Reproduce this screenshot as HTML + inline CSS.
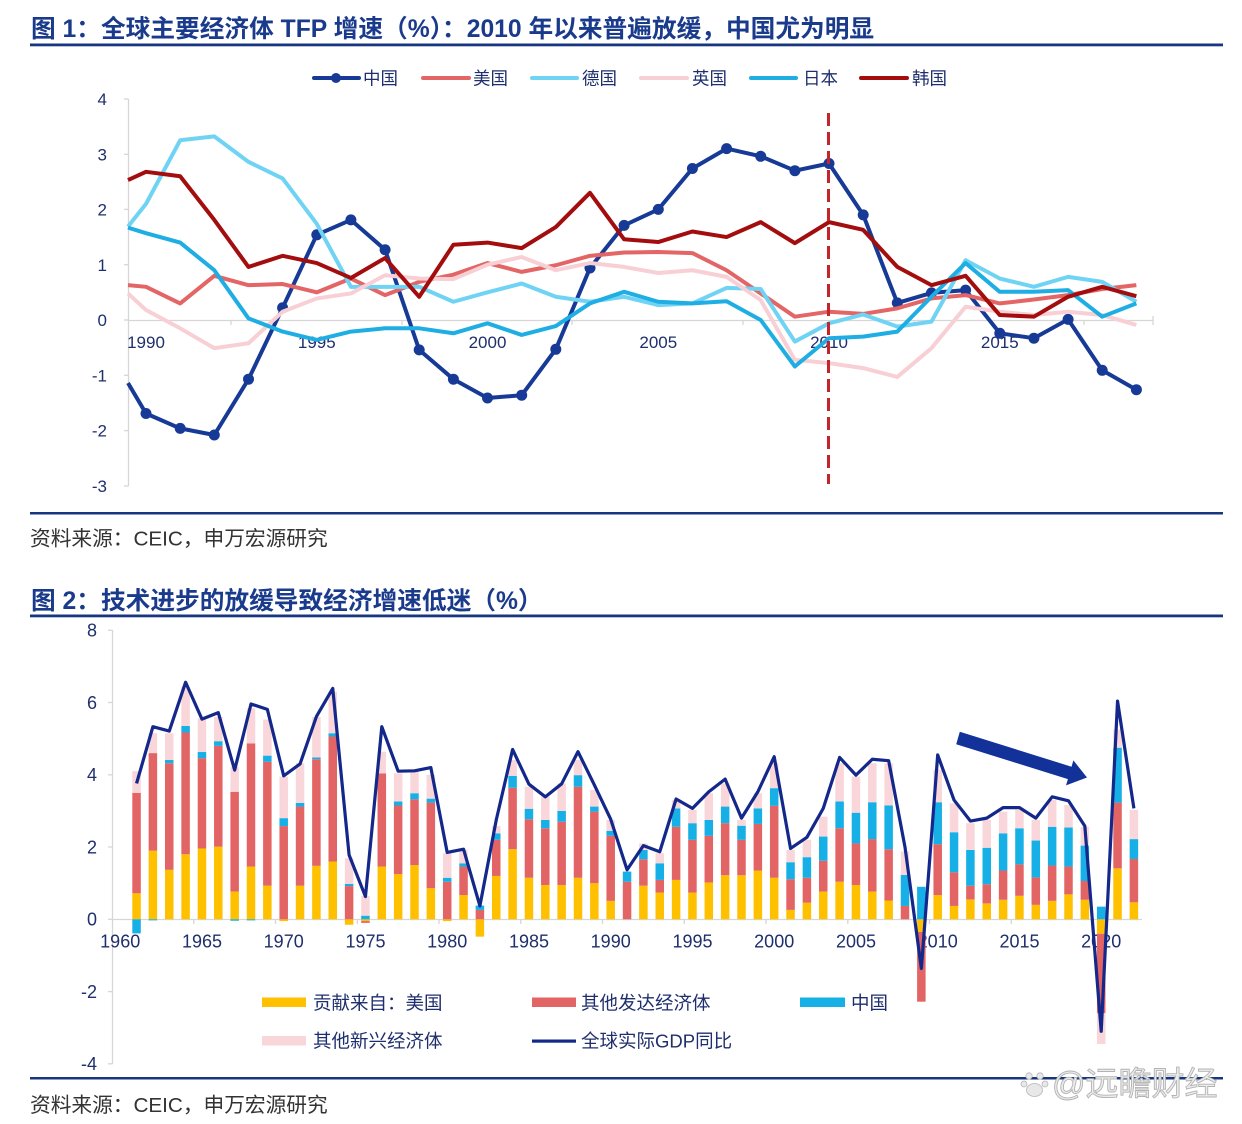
<!DOCTYPE html>
<html>
<head>
<meta charset="utf-8">
<style>
html,body{margin:0;padding:0;background:#fff;}
body{width:1242px;height:1124px;overflow:hidden;}
svg{display:block;}
text{font-family:"Liberation Sans","Noto Sans CJK SC",sans-serif;}
</style>
</head>
<body>
<svg width="1242" height="1124" viewBox="0 0 1242 1124" xmlns="http://www.w3.org/2000/svg">
<rect x="0" y="0" width="1242" height="1124" fill="#fff"/>

<!-- ===== Figure 1 ===== -->
<text x="31" y="37" font-size="24.7" font-weight="bold" fill="#1a3a8c">图 1：全球主要经济体 TFP 增速（%）：2010 年以来普遍放缓，中国尤为明显</text>
<rect x="30" y="43.5" width="1193" height="2.8" fill="#17367f"/>

<!-- legend 1 -->
<g stroke-width="4" stroke-linecap="round" fill="none">
  <line x1="314" y1="78" x2="359" y2="78" stroke="#173a96"/>
  <line x1="423" y1="78" x2="469" y2="78" stroke="#e36565"/>
  <line x1="532" y1="78" x2="577" y2="78" stroke="#6fd3f4"/>
  <line x1="641" y1="78" x2="687" y2="78" stroke="#f8cfd4"/>
  <line x1="751" y1="78" x2="796" y2="78" stroke="#1eaee3"/>
  <line x1="861" y1="78" x2="907" y2="78" stroke="#a30d0d"/>
</g>
<circle cx="336" cy="78" r="5" fill="#173a96"/>
<g font-size="17.5" fill="#1f2f6e">
  <text x="363" y="84.5">中国</text>
  <text x="473" y="84.5">美国</text>
  <text x="582" y="84.5">德国</text>
  <text x="692" y="84.5">英国</text>
  <text x="803" y="84.5">日本</text>
  <text x="912" y="84.5">韩国</text>
</g>

<!-- axes 1 -->
<g stroke="#d6d6d6" stroke-width="1.3">
  <line x1="128.5" y1="99" x2="128.5" y2="486"/>
  <line x1="124" y1="99" x2="128.5" y2="99"/>
  <line x1="124" y1="154.3" x2="128.5" y2="154.3"/>
  <line x1="124" y1="209.4" x2="128.5" y2="209.4"/>
  <line x1="124" y1="264.7" x2="128.5" y2="264.7"/>
  <line x1="124" y1="320" x2="128.5" y2="320"/>
  <line x1="124" y1="375.3" x2="128.5" y2="375.3"/>
  <line x1="124" y1="430.6" x2="128.5" y2="430.6"/>
  <line x1="124" y1="486" x2="128.5" y2="486"/>
  <line x1="128" y1="320.5" x2="1153" y2="320.5"/>
  <line x1="1153" y1="316" x2="1153" y2="325"/>
  <line x1="231" y1="320" x2="231" y2="325"/>
  <line x1="402" y1="320" x2="402" y2="325"/>
  <line x1="572" y1="320" x2="572" y2="325"/>
  <line x1="743" y1="320" x2="743" y2="325"/>
  <line x1="914" y1="320" x2="914" y2="325"/>
  <line x1="1084" y1="320" x2="1084" y2="325"/>
</g>
<g font-size="17" fill="#1f2f6e" text-anchor="end">
  <text x="107" y="105">4</text>
  <text x="107" y="160.3">3</text>
  <text x="107" y="215.5">2</text>
  <text x="107" y="270.8">1</text>
  <text x="107" y="326">0</text>
  <text x="107" y="381.3">-1</text>
  <text x="107" y="436.6">-2</text>
  <text x="107" y="492">-3</text>
</g>
<g font-size="17" fill="#1f2f6e" text-anchor="middle">
  <text x="146" y="348">1990</text>
  <text x="316.8" y="348">1995</text>
  <text x="487.5" y="348">2000</text>
  <text x="658.3" y="348">2005</text>
  <text x="829" y="348">2010</text>
  <text x="999.8" y="348">2015</text>
</g>

<!-- series 1 -->
<polyline fill="none" stroke="#173a96" stroke-width="4" stroke-linejoin="round" points="128,383 146,413.5 180.2,428.4 214.3,435 248.5,379.2 282.6,307.8 316.8,234.8 350.9,219.9 385.1,249.8 419.2,349.9 453.4,379.2 487.5,398 521.7,395.2 555.8,349.3 590,268 624.1,225.4 658.3,209.4 692.4,168.5 726.6,148.6 760.7,156.3 794.9,170.7 829,163.5 863.2,214.9 897.3,302.9 931.5,292.9 965.6,290.1 999.8,333.3 1033.9,338.2 1068.1,319.4 1102.2,370.3 1136.4,389.7"/>
<g fill="#173a96">
  <circle cx="146" cy="413.5" r="5.5"/><circle cx="180.2" cy="428.4" r="5.5"/><circle cx="214.3" cy="435" r="5.5"/><circle cx="248.5" cy="379.2" r="5.5"/><circle cx="282.6" cy="307.8" r="5.5"/><circle cx="316.8" cy="234.8" r="5.5"/><circle cx="350.9" cy="219.9" r="5.5"/><circle cx="385.1" cy="249.8" r="5.5"/><circle cx="419.2" cy="349.9" r="5.5"/><circle cx="453.4" cy="379.2" r="5.5"/><circle cx="487.5" cy="398" r="5.5"/><circle cx="521.7" cy="395.2" r="5.5"/><circle cx="555.8" cy="349.3" r="5.5"/><circle cx="590" cy="268" r="5.5"/><circle cx="624.1" cy="225.4" r="5.5"/><circle cx="658.3" cy="209.4" r="5.5"/><circle cx="692.4" cy="168.5" r="5.5"/><circle cx="726.6" cy="148.6" r="5.5"/><circle cx="760.7" cy="156.3" r="5.5"/><circle cx="794.9" cy="170.7" r="5.5"/><circle cx="829" cy="163.5" r="5.5"/><circle cx="863.2" cy="214.9" r="5.5"/><circle cx="897.3" cy="302.9" r="5.5"/><circle cx="931.5" cy="292.9" r="5.5"/><circle cx="965.6" cy="290.1" r="5.5"/><circle cx="999.8" cy="333.3" r="5.5"/><circle cx="1033.9" cy="338.2" r="5.5"/><circle cx="1068.1" cy="319.4" r="5.5"/><circle cx="1102.2" cy="370.3" r="5.5"/><circle cx="1136.4" cy="389.7" r="5.5"/>
</g>
<g transform="translate(146,320) scale(34.15,-55.3)" fill="none" stroke-linejoin="round">
  <polyline vector-effect="non-scaling-stroke" stroke="#e36565" stroke-width="4" points="-0.527,0.63 0,0.6 1,0.3 2,0.8 3,0.63 4,0.65 5,0.5 6,0.75 7,0.45 8,0.69 9,0.82 10,1.03 11,0.87 12,0.99 13,1.16 14,1.22 15,1.23 16,1.21 17,0.9 18,0.48 19,0.06 20,0.15 21,0.11 22,0.21 23,0.39 24,0.45 25,0.3 26,0.37 27,0.45 28,0.56 29,0.63"/>
  <polyline vector-effect="non-scaling-stroke" stroke="#6fd3f4" stroke-width="4" points="-0.527,1.69 0,2.1 1,3.25 2,3.32 3,2.86 4,2.56 5,1.74 6,0.6 7,0.6 8,0.6 9,0.33 10,0.5 11,0.66 12,0.42 13,0.33 14,0.42 15,0.27 16,0.3 17,0.58 18,0.56 19,-0.39 20,-0.06 21,0.1 22,-0.12 23,-0.03 24,1.08 25,0.75 26,0.6 27,0.78 28,0.69 29,0.33"/>
  <polyline vector-effect="non-scaling-stroke" stroke="#f8cfd4" stroke-width="4" points="-0.527,0.48 0,0.18 1,-0.15 2,-0.51 3,-0.42 4,0.15 5,0.39 6,0.48 7,0.81 8,0.75 9,0.74 10,1.0 11,1.14 12,0.9 13,1.03 14,0.96 15,0.85 16,0.9 17,0.78 18,0.36 19,-0.72 20,-0.78 21,-0.87 22,-1.03 23,-0.51 24,0.24 25,0.15 26,0.09 27,0.15 28,0.09 29,-0.09"/>
  <polyline vector-effect="non-scaling-stroke" stroke="#1eaee3" stroke-width="4" points="-0.527,1.67 0,1.57 1,1.4 2,0.9 3,0.03 4,-0.21 5,-0.36 6,-0.21 7,-0.15 8,-0.15 9,-0.24 10,-0.06 11,-0.27 12,-0.11 13,0.3 14,0.51 15,0.33 16,0.3 17,0.34 18,0 19,-0.84 20,-0.33 21,-0.3 22,-0.21 23,0.42 24,1.03 25,0.51 26,0.51 27,0.54 28,0.06 29,0.3"/>
  <polyline vector-effect="non-scaling-stroke" stroke="#a30d0d" stroke-width="4" points="-0.527,2.53 0,2.68 1,2.6 2,1.81 3,0.96 4,1.16 5,1.03 6,0.76 7,1.12 8,0.42 9,1.36 10,1.4 11,1.3 12,1.68 13,2.3 14,1.46 15,1.41 16,1.6 17,1.5 18,1.77 19,1.39 20,1.77 21,1.63 22,0.96 23,0.63 24,0.8 25,0.09 26,0.06 27,0.42 28,0.6 29,0.43"/>
</g>
<line x1="828.5" y1="113" x2="828.5" y2="484" stroke="#c3252b" stroke-width="3" stroke-dasharray="13,6"/>

<!-- source 1 -->
<rect x="30" y="512" width="1193" height="2.5" fill="#17367f"/>
<text x="30" y="545.5" font-size="20.7" fill="#333">资料来源：CEIC，申万宏源研究</text>

<!-- ===== Figure 2 ===== -->
<text x="31" y="609" font-size="24.7" font-weight="bold" fill="#1a3a8c">图 2：技术进步的放缓导致经济增速低迷（%）</text>
<rect x="30" y="614.5" width="1193" height="2.8" fill="#17367f"/>

<!-- axes 2 -->
<g stroke="#d6d6d6" stroke-width="1.3">
  <line x1="112.5" y1="630" x2="112.5" y2="1064"/>
  <line x1="108" y1="630.3" x2="112.5" y2="630.3"/>
  <line x1="108" y1="702.5" x2="112.5" y2="702.5"/>
  <line x1="108" y1="774.8" x2="112.5" y2="774.8"/>
  <line x1="108" y1="847" x2="112.5" y2="847"/>
  <line x1="108" y1="919.3" x2="112.5" y2="919.3"/>
  <line x1="108" y1="991.6" x2="112.5" y2="991.6"/>
  <line x1="108" y1="1063.8" x2="112.5" y2="1063.8"/>
  <line x1="112" y1="919.5" x2="1142" y2="919.5"/>
  <line x1="193.8" y1="919" x2="193.8" y2="924"/>
  <line x1="275.5" y1="919" x2="275.5" y2="924"/>
  <line x1="357.3" y1="919" x2="357.3" y2="924"/>
  <line x1="439" y1="919" x2="439" y2="924"/>
  <line x1="520.8" y1="919" x2="520.8" y2="924"/>
  <line x1="602.5" y1="919" x2="602.5" y2="924"/>
  <line x1="684.3" y1="919" x2="684.3" y2="924"/>
  <line x1="766" y1="919" x2="766" y2="924"/>
  <line x1="847.8" y1="919" x2="847.8" y2="924"/>
  <line x1="929.5" y1="919" x2="929.5" y2="924"/>
  <line x1="1011.3" y1="919" x2="1011.3" y2="924"/>
  <line x1="1093" y1="919" x2="1093" y2="924"/>
</g>
<g font-size="18" fill="#1f2f6e" text-anchor="end">
  <text x="97" y="636.7">8</text>
  <text x="97" y="708.9">6</text>
  <text x="97" y="781.2">4</text>
  <text x="97" y="853.4">2</text>
  <text x="97" y="925.7">0</text>
  <text x="97" y="998">-2</text>
  <text x="97" y="1070.2">-4</text>
</g>
<g font-size="18" fill="#1f2f6e" text-anchor="middle">
  <text x="120.2" y="947.5">1960</text>
  <text x="202" y="947.5">1965</text>
  <text x="283.7" y="947.5">1970</text>
  <text x="365.5" y="947.5">1975</text>
  <text x="447.2" y="947.5">1980</text>
  <text x="529" y="947.5">1985</text>
  <text x="610.7" y="947.5">1990</text>
  <text x="692.5" y="947.5">1995</text>
  <text x="774.2" y="947.5">2000</text>
  <text x="856" y="947.5">2005</text>
  <text x="937.7" y="947.5">2010</text>
  <text x="1019.5" y="947.5">2015</text>
  <text x="1101.2" y="947.5">2020</text>
</g>

<!-- bars -->
<g transform="translate(120.2,919.3) scale(16.35,-36.13)">
 <g fill="#ffc000">
  <rect x="0.74" y="0" width="0.52" height="0.72"/><rect x="1.74" y="0" width="0.52" height="1.9"/><rect x="2.74" y="0" width="0.52" height="1.37"/><rect x="3.74" y="0" width="0.52" height="1.8"/><rect x="4.74" y="0" width="0.52" height="1.96"/><rect x="5.74" y="0" width="0.52" height="2.01"/><rect x="6.74" y="0" width="0.52" height="0.77"/><rect x="7.74" y="0" width="0.52" height="1.46"/><rect x="8.74" y="0" width="0.52" height="0.93"/><rect x="9.74" y="-0.05" width="0.52" height="0.05"/>
  <rect x="10.74" y="0" width="0.52" height="0.93"/><rect x="11.74" y="0" width="0.52" height="1.48"/><rect x="12.74" y="0" width="0.52" height="1.6"/><rect x="13.74" y="-0.15" width="0.52" height="0.15"/><rect x="14.74" y="-0.05" width="0.52" height="0.05"/><rect x="15.74" y="0" width="0.52" height="1.46"/><rect x="16.74" y="0" width="0.52" height="1.25"/><rect x="17.74" y="0" width="0.52" height="1.5"/><rect x="18.74" y="0" width="0.52" height="0.86"/><rect x="19.74" y="-0.05" width="0.52" height="0.05"/>
  <rect x="20.74" y="0" width="0.52" height="0.67"/><rect x="21.74" y="-0.48" width="0.52" height="0.48"/><rect x="22.74" y="0" width="0.52" height="1.2"/><rect x="23.74" y="0" width="0.52" height="1.94"/><rect x="24.74" y="0" width="0.52" height="1.15"/><rect x="25.74" y="0" width="0.52" height="0.95"/><rect x="26.74" y="0" width="0.52" height="0.95"/><rect x="27.74" y="0" width="0.52" height="1.15"/><rect x="28.74" y="0" width="0.52" height="1.0"/><rect x="29.74" y="0" width="0.52" height="0.51"/>
  <rect x="31.74" y="0" width="0.52" height="0.93"/><rect x="32.74" y="0" width="0.52" height="0.74"/><rect x="33.74" y="0" width="0.52" height="1.09"/><rect x="34.74" y="0" width="0.52" height="0.74"/><rect x="35.74" y="0" width="0.52" height="1.02"/><rect x="36.74" y="0" width="0.52" height="1.22"/><rect x="37.74" y="0" width="0.52" height="1.22"/><rect x="38.74" y="0" width="0.52" height="1.35"/><rect x="39.74" y="0" width="0.52" height="1.15"/>
  <rect x="40.74" y="0" width="0.52" height="0.26"/><rect x="41.74" y="0" width="0.52" height="0.46"/><rect x="42.74" y="0" width="0.52" height="0.77"/><rect x="43.74" y="0" width="0.52" height="1.04"/><rect x="44.74" y="0" width="0.52" height="0.95"/><rect x="45.74" y="0" width="0.52" height="0.77"/><rect x="46.74" y="0" width="0.52" height="0.52"/><rect x="48.74" y="-0.35" width="0.52" height="0.35"/><rect x="49.74" y="0" width="0.52" height="0.67"/>
  <rect x="50.74" y="0" width="0.52" height="0.37"/><rect x="51.74" y="0" width="0.52" height="0.55"/><rect x="52.74" y="0" width="0.52" height="0.44"/><rect x="53.74" y="0" width="0.52" height="0.54"/><rect x="54.74" y="0" width="0.52" height="0.65"/><rect x="55.74" y="0" width="0.52" height="0.4"/><rect x="56.74" y="0" width="0.52" height="0.51"/><rect x="57.74" y="0" width="0.52" height="0.69"/><rect x="58.74" y="0" width="0.52" height="0.54"/><rect x="59.74" y="-0.4" width="0.52" height="0.4"/>
  <rect x="60.74" y="0" width="0.52" height="1.41"/><rect x="61.74" y="0" width="0.52" height="0.47"/>
 </g>
 <g fill="#e36464">
  <rect x="0.74" y="0.72" width="0.52" height="2.78"/><rect x="1.74" y="1.9" width="0.52" height="2.7"/><rect x="2.74" y="1.37" width="0.52" height="2.95"/><rect x="3.74" y="1.8" width="0.52" height="3.37"/><rect x="4.74" y="1.96" width="0.52" height="2.5"/><rect x="5.74" y="2.01" width="0.52" height="2.79"/><rect x="6.74" y="0.77" width="0.52" height="2.76"/><rect x="7.74" y="1.46" width="0.52" height="3.41"/><rect x="8.74" y="0.93" width="0.52" height="3.43"/><rect x="9.74" y="0" width="0.52" height="2.58"/>
  <rect x="10.74" y="0.93" width="0.52" height="2.19"/><rect x="11.74" y="1.48" width="0.52" height="2.95"/><rect x="12.74" y="1.6" width="0.52" height="3.46"/><rect x="13.74" y="0" width="0.52" height="0.92"/><rect x="14.74" y="-0.1" width="0.52" height="0.05"/><rect x="15.74" y="1.46" width="0.52" height="2.58"/><rect x="16.74" y="1.25" width="0.52" height="1.9"/><rect x="17.74" y="1.5" width="0.52" height="1.82"/><rect x="18.74" y="0.86" width="0.52" height="2.37"/><rect x="19.74" y="0" width="0.52" height="1.04"/>
  <rect x="20.74" y="0.67" width="0.52" height="0.79"/><rect x="21.74" y="0" width="0.52" height="0.26"/><rect x="22.74" y="1.2" width="0.52" height="1.0"/><rect x="23.74" y="1.94" width="0.52" height="1.7"/><rect x="24.74" y="1.15" width="0.52" height="1.62"/><rect x="25.74" y="0.95" width="0.52" height="1.57"/><rect x="26.74" y="0.95" width="0.52" height="1.75"/><rect x="27.74" y="1.15" width="0.52" height="2.52"/><rect x="28.74" y="1.0" width="0.52" height="1.98"/><rect x="29.74" y="0.51" width="0.52" height="1.8"/>
  <rect x="30.74" y="0" width="0.52" height="1.04"/><rect x="31.74" y="0.93" width="0.52" height="0.73"/><rect x="32.74" y="0.74" width="0.52" height="0.35"/><rect x="33.74" y="1.09" width="0.52" height="1.47"/><rect x="34.74" y="0.74" width="0.52" height="1.46"/><rect x="35.74" y="1.02" width="0.52" height="1.29"/><rect x="36.74" y="1.22" width="0.52" height="1.44"/><rect x="37.74" y="1.22" width="0.52" height="0.98"/><rect x="38.74" y="1.35" width="0.52" height="1.29"/><rect x="39.74" y="1.15" width="0.52" height="1.99"/>
  <rect x="40.74" y="0.26" width="0.52" height="0.85"/><rect x="41.74" y="0.46" width="0.52" height="0.69"/><rect x="42.74" y="0.77" width="0.52" height="0.85"/><rect x="43.74" y="1.04" width="0.52" height="1.48"/><rect x="44.74" y="0.95" width="0.52" height="1.15"/><rect x="45.74" y="0.77" width="0.52" height="1.45"/><rect x="46.74" y="0.52" width="0.52" height="1.42"/><rect x="47.74" y="0" width="0.52" height="0.37"/><rect x="48.74" y="-2.28" width="0.52" height="1.93"/><rect x="49.74" y="0.67" width="0.52" height="1.41"/>
  <rect x="50.74" y="0.37" width="0.52" height="0.93"/><rect x="51.74" y="0.55" width="0.52" height="0.38"/><rect x="52.74" y="0.44" width="0.52" height="0.53"/><rect x="53.74" y="0.54" width="0.52" height="0.81"/><rect x="54.74" y="0.65" width="0.52" height="0.87"/><rect x="55.74" y="0.4" width="0.52" height="0.76"/><rect x="56.74" y="0.51" width="0.52" height="0.98"/><rect x="57.74" y="0.69" width="0.52" height="0.77"/><rect x="58.74" y="0.54" width="0.52" height="0.52"/><rect x="59.74" y="-2.6" width="0.52" height="2.2"/>
  <rect x="60.74" y="1.41" width="0.52" height="1.82"/><rect x="61.74" y="0.47" width="0.52" height="1.2"/>
 </g>
 <g fill="#17b0e6">
  <rect x="0.74" y="-0.39" width="0.52" height="0.39"/><rect x="1.74" y="-0.03" width="0.52" height="0.03"/><rect x="2.74" y="4.32" width="0.52" height="0.09"/><rect x="3.74" y="5.17" width="0.52" height="0.18"/><rect x="4.74" y="4.46" width="0.52" height="0.17"/><rect x="5.74" y="4.8" width="0.52" height="0.13"/><rect x="6.74" y="-0.04" width="0.52" height="0.04"/><rect x="7.74" y="-0.03" width="0.52" height="0.03"/><rect x="8.74" y="4.36" width="0.52" height="0.17"/><rect x="9.74" y="2.58" width="0.52" height="0.22"/>
  <rect x="10.74" y="3.12" width="0.52" height="0.1"/><rect x="11.74" y="4.43" width="0.52" height="0.05"/><rect x="12.74" y="5.06" width="0.52" height="0.09"/><rect x="13.74" y="0.92" width="0.52" height="0.06"/><rect x="14.74" y="0" width="0.52" height="0.1"/><rect x="16.74" y="3.15" width="0.52" height="0.11"/><rect x="17.74" y="3.32" width="0.52" height="0.17"/><rect x="18.74" y="3.23" width="0.52" height="0.11"/><rect x="19.74" y="1.04" width="0.52" height="0.11"/>
  <rect x="20.74" y="1.46" width="0.52" height="0.09"/><rect x="21.74" y="0.26" width="0.52" height="0.12"/><rect x="22.74" y="2.2" width="0.52" height="0.18"/><rect x="23.74" y="3.64" width="0.52" height="0.33"/><rect x="24.74" y="2.77" width="0.52" height="0.29"/><rect x="25.74" y="2.52" width="0.52" height="0.23"/><rect x="26.74" y="2.7" width="0.52" height="0.3"/><rect x="27.74" y="3.67" width="0.52" height="0.32"/><rect x="28.74" y="2.98" width="0.52" height="0.14"/><rect x="29.74" y="2.31" width="0.52" height="0.14"/>
  <rect x="30.74" y="1.04" width="0.52" height="0.28"/><rect x="31.74" y="1.66" width="0.52" height="0.26"/><rect x="32.74" y="1.09" width="0.52" height="0.46"/><rect x="33.74" y="2.56" width="0.52" height="0.51"/><rect x="34.74" y="2.2" width="0.52" height="0.46"/><rect x="35.74" y="2.31" width="0.52" height="0.44"/><rect x="36.74" y="2.66" width="0.52" height="0.46"/><rect x="37.74" y="2.2" width="0.52" height="0.39"/><rect x="38.74" y="2.64" width="0.52" height="0.43"/><rect x="39.74" y="3.14" width="0.52" height="0.49"/>
  <rect x="40.74" y="1.11" width="0.52" height="0.47"/><rect x="41.74" y="1.15" width="0.52" height="0.57"/><rect x="42.74" y="1.62" width="0.52" height="0.67"/><rect x="43.74" y="2.52" width="0.52" height="0.74"/><rect x="44.74" y="2.1" width="0.52" height="0.85"/><rect x="45.74" y="2.22" width="0.52" height="1.02"/><rect x="46.74" y="1.94" width="0.52" height="1.21"/><rect x="47.74" y="0.37" width="0.52" height="0.86"/><rect x="48.74" y="0" width="0.52" height="0.9"/><rect x="49.74" y="2.08" width="0.52" height="1.16"/>
  <rect x="50.74" y="1.3" width="0.52" height="1.11"/><rect x="51.74" y="0.93" width="0.52" height="0.99"/><rect x="52.74" y="0.97" width="0.52" height="1.01"/><rect x="53.74" y="1.35" width="0.52" height="1.03"/><rect x="54.74" y="1.52" width="0.52" height="1.0"/><rect x="55.74" y="1.16" width="0.52" height="1.02"/><rect x="56.74" y="1.49" width="0.52" height="1.07"/><rect x="57.74" y="1.46" width="0.52" height="1.08"/><rect x="58.74" y="1.06" width="0.52" height="0.98"/><rect x="59.74" y="0" width="0.52" height="0.35"/>
  <rect x="60.74" y="3.23" width="0.52" height="1.52"/><rect x="61.74" y="1.67" width="0.52" height="0.55"/>
 </g>
 <g fill="#f9d6d9">
  <rect x="0.74" y="3.5" width="0.52" height="0.6"/><rect x="1.74" y="4.6" width="0.52" height="0.55"/><rect x="2.74" y="4.41" width="0.52" height="0.74"/><rect x="3.74" y="5.35" width="0.52" height="1.09"/><rect x="4.74" y="4.63" width="0.52" height="0.93"/><rect x="5.74" y="4.93" width="0.52" height="0.67"/><rect x="6.74" y="3.53" width="0.52" height="0.69"/><rect x="7.74" y="4.87" width="0.52" height="0.97"/><rect x="8.74" y="4.53" width="0.52" height="1.0"/><rect x="9.74" y="2.8" width="0.52" height="1.15"/>
  <rect x="10.74" y="3.22" width="0.52" height="1.1"/><rect x="11.74" y="4.48" width="0.52" height="1.12"/><rect x="12.74" y="5.15" width="0.52" height="1.15"/><rect x="13.74" y="0.98" width="0.52" height="0.71"/><rect x="14.74" y="0.1" width="0.52" height="0.55"/><rect x="15.74" y="4.04" width="0.52" height="0.6"/><rect x="16.74" y="3.26" width="0.52" height="0.78"/><rect x="17.74" y="3.49" width="0.52" height="0.6"/><rect x="18.74" y="3.34" width="0.52" height="0.66"/><rect x="19.74" y="1.15" width="0.52" height="0.68"/>
  <rect x="20.74" y="1.55" width="0.52" height="0.37"/><rect x="22.74" y="2.38" width="0.52" height="0.2"/><rect x="23.74" y="3.97" width="0.52" height="0.44"/><rect x="24.74" y="3.06" width="0.52" height="0.61"/><rect x="25.74" y="2.75" width="0.52" height="0.64"/><rect x="26.74" y="3.0" width="0.52" height="0.76"/><rect x="27.74" y="3.99" width="0.52" height="0.42"/><rect x="28.74" y="3.12" width="0.52" height="0.46"/><rect x="29.74" y="2.45" width="0.52" height="0.3"/>
  <rect x="31.74" y="1.92" width="0.52" height="0.18"/><rect x="32.74" y="1.55" width="0.52" height="0.28"/><rect x="33.74" y="3.07" width="0.52" height="0.23"/><rect x="34.74" y="2.66" width="0.52" height="0.37"/><rect x="35.74" y="2.75" width="0.52" height="0.74"/><rect x="36.74" y="3.12" width="0.52" height="0.64"/><rect x="37.74" y="2.59" width="0.52" height="0.16"/><rect x="38.74" y="3.07" width="0.52" height="0.42"/><rect x="39.74" y="3.63" width="0.52" height="0.69"/>
  <rect x="40.74" y="1.58" width="0.52" height="0.34"/><rect x="41.74" y="1.72" width="0.52" height="0.48"/><rect x="42.74" y="2.29" width="0.52" height="0.55"/><rect x="43.74" y="3.26" width="0.52" height="1.06"/><rect x="44.74" y="2.95" width="0.52" height="1.0"/><rect x="45.74" y="3.24" width="0.52" height="1.08"/><rect x="46.74" y="3.15" width="0.52" height="1.17"/><rect x="47.74" y="1.23" width="0.52" height="0.65"/><rect x="49.74" y="3.24" width="0.52" height="0.9"/>
  <rect x="50.74" y="2.41" width="0.52" height="0.8"/><rect x="51.74" y="1.92" width="0.52" height="0.74"/><rect x="52.74" y="1.98" width="0.52" height="0.77"/><rect x="53.74" y="2.38" width="0.52" height="0.6"/><rect x="54.74" y="2.52" width="0.52" height="0.51"/><rect x="55.74" y="2.18" width="0.52" height="0.57"/><rect x="56.74" y="2.56" width="0.52" height="0.74"/><rect x="57.74" y="2.54" width="0.52" height="0.62"/><rect x="58.74" y="2.04" width="0.52" height="0.52"/><rect x="59.74" y="-3.45" width="0.52" height="0.85"/>
  <rect x="60.74" y="4.75" width="0.52" height="0.5"/><rect x="61.74" y="2.22" width="0.52" height="0.81"/>
 </g>
 <polyline vector-effect="non-scaling-stroke" fill="none" stroke="#13288a" stroke-width="3.2" stroke-linejoin="round" points="1,3.76 2,5.33 3,5.21 4,6.56 5,5.54 6,5.72 7,4.13 8,5.96 9,5.81 10,3.97 11,4.3 12,5.61 13,6.39 14,1.78 15,0.63 16,5.33 17,4.1 18,4.11 19,4.2 20,1.85 21,1.94 22,0.37 23,2.75 24,4.7 25,3.74 26,3.39 27,3.75 28,4.64 29,3.72 30,2.77 31,1.37 32,2.04 33,1.87 34,3.33 35,3.07 36,3.53 37,3.88 38,2.8 39,3.53 40,4.5 41,1.96 42,2.27 43,3.07 44,4.48 45,3.99 46,4.43 47,4.39 48,2.0 49,-1.36 50,4.55 51,3.3 52,2.72 53,2.8 54,3.09 55,3.09 56,2.8 57,3.39 58,3.28 59,2.58 60,-3.1 61,6.04 62,3.07"/>
</g>

<!-- arrow -->
<polygon fill="#12329a" points="959.8,731.8 1071.5,766.7 1073.4,760.4 1087,777.5 1066,785.4 1067.9,779.1 956.2,744.2"/>

<!-- legend 2 -->
<rect x="262" y="997.5" width="44" height="9.5" fill="#ffc000"/>
<rect x="532" y="997.5" width="44" height="9.5" fill="#e36464"/>
<rect x="800" y="997.5" width="45" height="9.5" fill="#17b0e6"/>
<rect x="262" y="1036" width="44" height="9.5" fill="#f9d6d9"/>
<rect x="532" y="1039.5" width="44" height="3.2" fill="#13288a"/>
<g font-size="18.5" fill="#1f2f6e">
  <text x="313" y="1009.5">贡献来自：美国</text>
  <text x="581" y="1009.5">其他发达经济体</text>
  <text x="851" y="1009.5">中国</text>
  <text x="313" y="1047.5">其他新兴经济体</text>
  <text x="581" y="1047.5">全球实际GDP同比</text>
</g>

<!-- source 2 -->
<rect x="30" y="1077" width="1193" height="2.5" fill="#17367f"/>
<text x="30" y="1112" font-size="20.7" fill="#333">资料来源：CEIC，申万宏源研究</text>

<!-- watermark -->
<g fill="#e8e8e8" stroke="#b5b5b5" stroke-width="0.8">
  <circle cx="1029" cy="1076" r="3.2"/>
  <circle cx="1040" cy="1076" r="3.2"/>
  <circle cx="1024" cy="1084" r="3"/>
  <circle cx="1045" cy="1084" r="3"/>
  <ellipse cx="1034.5" cy="1090" rx="8" ry="6.5"/>
</g>
<text x="1052" y="1095" font-size="33" fill="#ececec" stroke="#b3b3b3" stroke-width="0.9">@远瞻财经</text>
</svg>
</body>
</html>
